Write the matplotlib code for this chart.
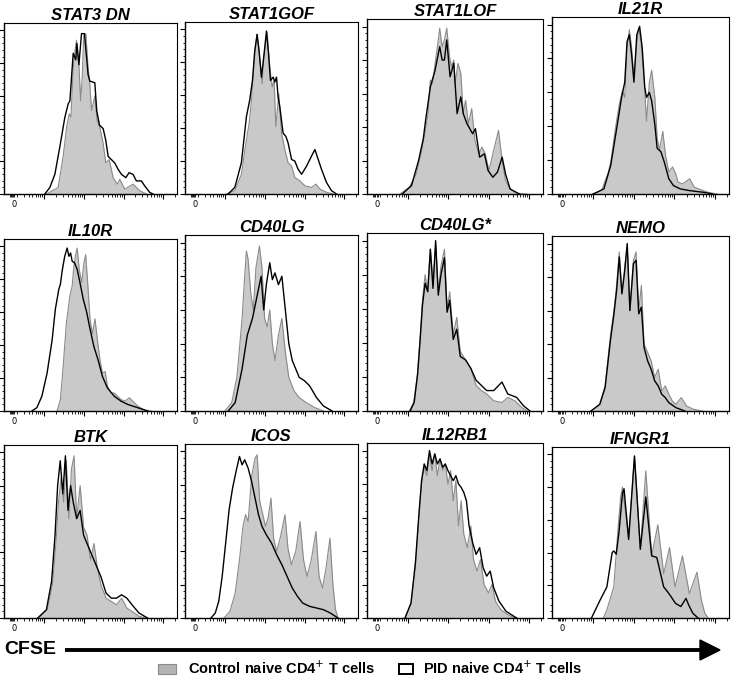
import numpy as np
import matplotlib.pyplot as plt
from matplotlib.patches import Rectangle, Polygon
from matplotlib.transforms import blended_transform_factory

plt.rcParams["font.family"] = ["Liberation Sans", "DejaVu Sans"]

# panel titles, row by row
GENES = ["STAT3 DN", "STAT1GOF", "STAT1LOF", "IL21R",
         "IL10R", "CD40LG", "CD40LG*", "NEMO",
         "BTK", "ICOS", "IL12RB1", "IFNGR1"]

# histograms: (display channel 0-1000, % of mode)
STAT3DN_CTRL = [(246, 0), (313, 4), (342, 23), (362, 41), (377, 49), (387, 47), (400, 77), (410, 87),
                (419, 94), (433, 79), (443, 57), (452, 71), (461, 97), (473, 98), (486, 77), (496, 67),
                (506, 51), (525, 60), (538, 45), (554, 41), (573, 31), (588, 19), (608, 21), (631, 10),
                (654, 6), (669, 9), (698, 3), (746, 6), (785, 2), (823, 0)]
STAT3DN_PID = [(236, 0), (265, 4), (294, 12), (323, 29), (352, 47), (371, 55), (381, 57), (400, 86),
               (415, 82), (421, 92), (433, 79), (448, 98), (465, 98), (486, 73), (496, 69), (525, 68),
               (536, 51), (552, 42), (573, 40), (588, 33), (602, 23), (621, 21), (640, 19), (660, 15),
               (679, 12), (704, 10), (723, 13), (746, 12), (765, 8), (794, 8), (813, 5), (842, 1), (861, 0)]

STAT1GOF_CTRL = [(239, 0), (288, 2), (326, 12), (355, 33), (371, 43), (384, 57), (398, 77), (415, 97),
                 (428, 87), (446, 67), (455, 83), (475, 98), (490, 77), (504, 65), (515, 69), (525, 41),
                 (542, 61), (558, 37), (577, 27), (596, 19), (616, 17), (635, 10), (664, 8), (693, 5),
                 (731, 4), (757, 6), (780, 3), (818, 1), (857, 0)]
STAT1GOF_PID = [(249, 0), (288, 4), (326, 19), (355, 47), (374, 57), (390, 69), (403, 87), (417, 97),
                (428, 87), (442, 71), (455, 83), (471, 99), (483, 85), (494, 69), (510, 71), (519, 68),
                (529, 71), (538, 59), (548, 53), (567, 37), (583, 35), (596, 31), (616, 21), (635, 20),
                (654, 15), (674, 12), (703, 17), (731, 23), (751, 27), (770, 21), (789, 15), (818, 7),
                (847, 2), (876, 0)]

STAT1LOF_CTRL = [(187, 0), (240, 4), (280, 12), (307, 24), (325, 34), (347, 48), (360, 68), (373, 66),
                 (387, 78), (400, 88), (413, 99), (427, 88), (440, 92), (453, 99), (469, 82), (480, 76),
                 (493, 80), (501, 66), (517, 78), (533, 72), (547, 48), (560, 56), (576, 42), (595, 51),
                 (613, 32), (635, 24), (653, 28), (672, 24), (693, 14), (715, 24), (747, 38), (768, 20),
                 (787, 8), (813, 3), (853, 0.4), (907, 0)]
STAT1LOF_PID = [(200, 0), (253, 5), (293, 20), (320, 33), (333, 44), (360, 64), (387, 74), (413, 88),
                (427, 80), (440, 80), (453, 92), (472, 70), (493, 78), (512, 48), (533, 58), (547, 48),
                (568, 42), (600, 36), (616, 39), (640, 22), (667, 24), (688, 14), (715, 10), (741, 13),
                (768, 22), (787, 12), (813, 3), (866, 0)]

IL21R_CTRL = [(228, 0), (280, 2), (319, 13), (332, 19), (359, 39), (380, 53), (398, 61), (411, 57),
              (424, 86), (437, 97), (450, 86), (463, 68), (476, 86), (490, 98), (503, 90), (521, 66),
              (534, 43), (550, 66), (563, 73), (581, 57), (594, 33), (607, 26), (626, 37), (641, 23),
              (660, 13), (681, 16), (699, 12), (712, 7), (738, 6), (778, 9), (804, 4), (830, 3),
              (882, 1), (935, 0)]
IL21R_PID = [(233, 0), (293, 3), (332, 17), (372, 43), (393, 57), (411, 66), (424, 90), (437, 94),
             (450, 82), (463, 66), (479, 94), (495, 99), (510, 86), (524, 63), (534, 57), (550, 60),
             (563, 55), (581, 41), (594, 27), (615, 25), (634, 19), (660, 9), (686, 5), (725, 3),
             (778, 2), (856, 1), (908, 0)]

IL10R_CTRL = [(307, 0), (326, 7), (342, 27), (361, 54), (381, 70), (394, 76), (404, 88), (414, 95),
              (423, 99), (435, 86), (449, 78), (462, 90), (472, 95), (485, 76), (497, 56), (511, 47),
              (526, 56), (540, 43), (555, 31), (569, 23), (585, 24), (598, 15), (618, 11), (637, 11),
              (656, 9), (676, 7), (699, 6), (724, 8), (744, 6), (773, 3), (812, 0.6), (851, 0)]
IL10R_PID = [(161, 0), (190, 2), (219, 9), (249, 23), (278, 43), (297, 62), (317, 74), (326, 77),
             (336, 85), (351, 94), (365, 99), (375, 94), (385, 96), (394, 91), (408, 90), (423, 86),
             (439, 78), (458, 68), (478, 60), (497, 50), (520, 39), (544, 31), (569, 21), (598, 14),
             (637, 9), (676, 6), (715, 4), (773, 2), (831, 0)]

CD40LG_CTRL = [(230, 0), (270, 5), (300, 20), (330, 55), (345, 80), (355, 95), (365, 90), (380, 70),
               (395, 60), (410, 85), (430, 98), (445, 85), (460, 55), (475, 50), (490, 60), (505, 40),
               (520, 30), (540, 45), (560, 55), (580, 35), (600, 20), (630, 12), (660, 8), (700, 5),
               (750, 2), (800, 0)]
CD40LG_PID = [(250, 0), (290, 5), (330, 25), (360, 45), (390, 55), (420, 70), (440, 80), (455, 60),
              (470, 75), (490, 88), (505, 78), (520, 82), (540, 75), (560, 80), (580, 60), (600, 40),
              (620, 30), (640, 25), (660, 20), (690, 18), (720, 15), (760, 8), (800, 3), (850, 0)]

CD40LGS_CTRL = [(240, 0), (265, 5), (285, 20), (300, 40), (315, 65), (330, 80), (345, 70), (360, 95),
                (375, 75), (390, 98), (405, 70), (420, 85), (440, 95), (455, 60), (470, 70), (490, 45),
                (510, 55), (530, 35), (560, 30), (590, 25), (620, 15), (650, 12), (680, 10), (720, 6),
                (767, 5), (800, 8), (840, 6), (880, 2), (910, 0)]
CD40LGS_PID = [(245, 0), (268, 5), (288, 22), (302, 42), (315, 62), (330, 75), (345, 70), (360, 95),
               (375, 72), (390, 100), (405, 68), (420, 80), (440, 90), (455, 58), (470, 65), (490, 42),
               (510, 48), (530, 32), (560, 30), (590, 25), (620, 18), (650, 15), (680, 12), (720, 12),
               (767, 17), (800, 10), (850, 8), (890, 3), (926, 0)]

NEMO_CTRL = [(220, 0), (270, 4), (300, 15), (330, 45), (350, 60), (365, 75), (380, 95), (395, 70),
             (410, 85), (425, 98), (440, 60), (460, 90), (475, 95), (490, 60), (505, 75), (520, 40),
             (540, 35), (560, 30), (580, 20), (600, 25), (620, 12), (640, 15), (660, 10), (680, 6),
             (700, 4), (730, 8), (760, 3), (800, 1), (850, 0)]
NEMO_PID = [(220, 0), (270, 4), (300, 14), (330, 42), (350, 58), (365, 72), (380, 92), (395, 70),
            (410, 83), (425, 100), (440, 60), (460, 88), (475, 90), (490, 58), (505, 62), (520, 38),
            (540, 30), (560, 25), (580, 18), (600, 15), (620, 10), (640, 8), (660, 5), (700, 2), (750, 0)]

BTK_CTRL = [(200, 0), (250, 5), (280, 20), (300, 45), (315, 70), (330, 85), (345, 70), (360, 95),
            (375, 60), (390, 90), (405, 98), (420, 60), (440, 80), (460, 55), (480, 50), (500, 35),
            (520, 45), (540, 30), (560, 20), (590, 12), (620, 10), (650, 8), (680, 12), (710, 6),
            (740, 4), (780, 1), (820, 0)]
BTK_PID = [(195, 0), (245, 5), (275, 22), (295, 50), (310, 80), (325, 95), (340, 75), (355, 98),
           (370, 65), (385, 80), (400, 70), (420, 60), (440, 65), (460, 50), (480, 45), (500, 40),
           (520, 35), (540, 30), (560, 25), (590, 15), (620, 12), (650, 12), (680, 14), (710, 12),
           (740, 8), (780, 3), (830, 0)]

ICOS_CTRL = [(225, 0), (260, 4), (290, 15), (315, 35), (335, 55), (350, 62), (365, 58), (385, 85),
             (405, 96), (417, 98), (432, 70), (450, 62), (465, 55), (480, 60), (497, 72), (512, 48),
             (530, 40), (550, 48), (578, 62), (595, 42), (615, 32), (640, 40), (665, 58), (685, 35),
             (705, 25), (730, 35), (757, 52), (775, 25), (795, 18), (815, 30), (838, 48), (855, 20),
             (870, 5), (885, 0)]
ICOS_PID = [(150, 0), (175, 3), (195, 10), (215, 25), (235, 45), (255, 65), (275, 78), (295, 88),
            (315, 97), (330, 92), (345, 95), (365, 90), (385, 82), (405, 72), (425, 62), (445, 55),
            (470, 50), (500, 45), (530, 38), (560, 32), (590, 25), (620, 18), (650, 13), (680, 9),
            (720, 7), (760, 6), (800, 5), (840, 3), (884, 0)]

IL12RB1_CTRL = [(216, 0), (250, 8), (275, 30), (295, 60), (310, 80), (325, 90), (340, 85), (355, 97),
                (370, 88), (385, 98), (400, 85), (415, 95), (430, 88), (445, 92), (460, 80), (475, 88),
                (490, 70), (505, 82), (520, 55), (535, 70), (550, 50), (570, 42), (590, 55), (605, 35),
                (625, 28), (645, 35), (665, 20), (690, 15), (710, 20), (730, 10), (760, 5), (800, 2),
                (840, 0)]
IL12RB1_PID = [(216, 0), (250, 9), (275, 33), (295, 62), (310, 82), (325, 92), (340, 88), (355, 100),
               (370, 92), (385, 98), (400, 92), (415, 95), (430, 90), (445, 92), (460, 88), (475, 85),
               (490, 82), (505, 85), (520, 80), (535, 78), (550, 75), (565, 70), (580, 55), (600, 45),
               (620, 38), (640, 42), (660, 30), (680, 25), (700, 28), (720, 18), (750, 10), (790, 4),
               (850, 0)]

IFNGR1_CTRL = [(290, 0), (310, 5), (349, 19), (374, 56), (388, 74), (398, 80), (433, 49), (466, 99),
               (499, 42), (530, 90), (563, 38), (598, 57), (631, 27), (664, 43), (695, 19), (737, 38),
               (776, 15), (819, 28), (844, 11), (863, 3), (883, 0)]
IFNGR1_PID = [(223, 0), (272, 11), (310, 19), (340, 40), (349, 41), (363, 39), (378, 52), (398, 76),
              (407, 79), (433, 48), (466, 99), (499, 42), (530, 74), (563, 38), (592, 37), (631, 19),
              (653, 16), (673, 13), (697, 9), (728, 7), (757, 12), (772, 8), (795, 3), (825, 0)]

CTRL = [STAT3DN_CTRL, STAT1GOF_CTRL, STAT1LOF_CTRL, IL21R_CTRL,
        IL10R_CTRL, CD40LG_CTRL, CD40LGS_CTRL, NEMO_CTRL,
        BTK_CTRL, ICOS_CTRL, IL12RB1_CTRL, IFNGR1_CTRL]
PID = [STAT3DN_PID, STAT1GOF_PID, STAT1LOF_PID, IL21R_PID,
       IL10R_PID, CD40LG_PID, CD40LGS_PID, NEMO_PID,
       BTK_PID, ICOS_PID, IL12RB1_PID, IFNGR1_PID]

W, H = 731, 677
fig = plt.figure(figsize=(W / 100, H / 100), dpi=100)

# panel boxes in pixels
col_lr = [(4, 177), (185, 358), (367, 543), (552, 729)]
row_bottom = [194, 411, 618]
tops = [[23, 22, 19, 17], [239, 235, 233, 236], [445, 444, 443, 447]]

# CFSE axis ticks in display channels (biexponential style)
DEC0, DECW = 233, 229
major_x = [DEC0 + DECW * k for k in range(4)]
minor_x = [35, 42, 48, 54, 60]
for k in range(-1, 4):
    for m in range(2, 10):
        c = DEC0 + DECW * (k + np.log10(m))
        if 65 < c < 1000:
            minor_x.append(c)

GRAY_FILL = "#c9c9c9"
GRAY_EDGE = "#8a8a8a"

for i, gene in enumerate(GENES):
    r, c = divmod(i, 4)
    L, R = col_lr[c]
    T, B = tops[r][c], row_bottom[r]
    ax = fig.add_axes([L / W, 1 - B / H, (R - L) / W, (B - T) / H])

    cx, cy = np.array(CTRL[i], dtype=float).T
    px, py = np.array(PID[i], dtype=float).T
    ax.fill_between(cx, cy, 0, color=GRAY_FILL, lw=0, zorder=1)
    ax.plot(cx, cy, color=GRAY_EDGE, lw=0.8, zorder=2)
    ax.plot(px, py, color="black", lw=1.0, zorder=3)

    ax.set_xlim(0, 1000)
    ax.set_ylim(0, 104.5)
    ax.set_xticks(major_x)
    ax.set_xticks(minor_x, minor=True)
    ax.set_xticklabels([])
    ax.set_yticks(np.arange(0, 101, 20))
    ax.set_yticks(np.arange(0, 101, 4), minor=True)
    ax.set_yticklabels([])
    ax.tick_params(which="major", direction="out", length=3.5, width=0.8)
    ax.tick_params(which="minor", direction="out", length=1.8, width=0.6)
    for side in ["top", "right"]:
        ax.spines[side].set_linewidth(0.8)
    for side in ["left", "bottom"]:
        ax.spines[side].set_linewidth(1.0)

    ax.set_title(gene, fontsize=12, fontweight="bold", style="italic", pad=2.5)
    trans = blended_transform_factory(ax.transData, ax.transAxes)
    ax.text(58, -0.035, "0", transform=trans, fontsize=6, ha="center", va="top",
            fontfamily="DejaVu Sans")

# CFSE arrow and legend drawn on an overlay in pixel units
ov = fig.add_axes([0, 0, 1, 1], zorder=10)
ov.set_xlim(0, W)
ov.set_ylim(H, 0)
ov.axis("off")
ov.text(4, 650, "CFSE", fontsize=14, fontweight="bold", va="center", ha="left")
ov.plot([65, 702], [650, 650], color="black", lw=2.8, solid_capstyle="butt")
ov.add_patch(Polygon([(700, 640), (720, 650), (700, 660)], closed=True, color="black"))

ov.add_patch(Rectangle((158, 664), 18, 10, facecolor="#b3b3b3", edgecolor="#8a8a8a", lw=0.8))
ov.text(188, 668, "Control naive CD4$^{+}$ T cells", fontsize=10.5, fontweight="bold",
        va="center", ha="left")
ov.add_patch(Rectangle((399, 664), 14, 10, facecolor="white", edgecolor="black", lw=1.4))
ov.text(423, 668, "PID naive CD4$^{+}$ T cells", fontsize=10.5, fontweight="bold",
        va="center", ha="left")

fig.savefig("out.png", dpi=100)
